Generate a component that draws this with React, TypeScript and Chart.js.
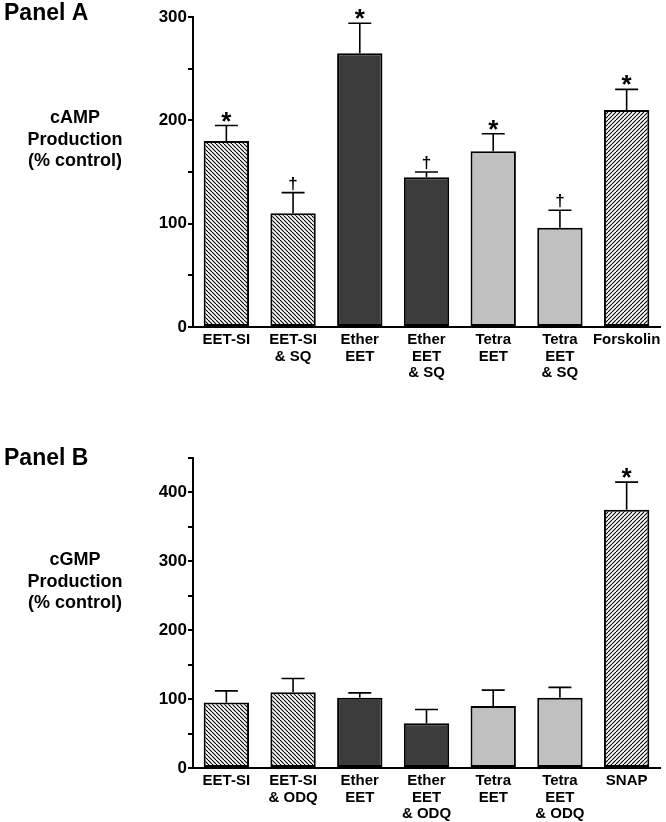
import React, { useEffect, useRef } from 'react';
import { Chart, registerables } from 'chart.js';

Chart.register(...registerables);

const FONT = '"Liberation Sans", Arial, Helvetica, sans-serif';

// ---- Panel A data ----
const categoriesA: string[][] = [
  ['EET-SI'],
  ['EET-SI', '& SQ'],
  ['Ether', 'EET'],
  ['Ether', 'EET', '& SQ'],
  ['Tetra', 'EET'],
  ['Tetra', 'EET', '& SQ'],
  ['Forskolin'],
];
const valuesA = [180, 110, 265, 145, 170, 96, 210];
const errorsA = [15, 20, 29, 5, 17, 17, 20];
const marksA = ['*', '†', '*', '†', '*', '†', '*'];
const ticksA = [0, 100, 200, 300];
const yTitleA = ['cAMP', 'Production', '(% control)'];

// ---- Panel B data ----
const categoriesB: string[][] = [
  ['EET-SI'],
  ['EET-SI', '& ODQ'],
  ['Ether', 'EET'],
  ['Ether', 'EET', '& ODQ'],
  ['Tetra', 'EET'],
  ['Tetra', 'EET', '& ODQ'],
  ['SNAP'],
];
const valuesB = [95, 110, 102, 65, 90, 102, 375];
const errorsB = [17, 20, 7, 20, 23, 15, 40];
const marksB = ['', '', '', '', '', '', '*'];
const ticksB = [0, 100, 200, 300, 400];
const yTitleB = ['cGMP', 'Production', '(% control)'];

function makeHatch(dir: 'down' | 'up'): CanvasPattern | string {
  const s = 4;
  const c = document.createElement('canvas');
  c.width = s;
  c.height = s;
  const g = c.getContext('2d');
  if (!g) return '#888';
  g.fillStyle = '#ffffff';
  g.fillRect(0, 0, s, s);
  g.strokeStyle = '#000000';
  g.lineWidth = 1.1;
  for (const k of [-s, 0, s]) {
    g.beginPath();
    if (dir === 'down') {
      g.moveTo(k, 0);
      g.lineTo(k + s, s);
    } else {
      g.moveTo(k, s);
      g.lineTo(k + s, 0);
    }
    g.stroke();
  }
  const p = g.createPattern(c, 'repeat');
  return p || '#888';
}

interface PanelSpec {
  title: string;
  titleY: number;
  yTitle: string[];
  yTitleY: number;
  labels: string[][];
  values: number[];
  errors: number[];
  marks: string[];
  majorTicks: number[];
  max: number;
  top: number;
  xAxisHeight: number;
}

function buildChart(canvas: HTMLCanvasElement, spec: PanelSpec): Chart {
  const down = makeHatch('down');
  const up = makeHatch('up');
  const dark = '#3c3c3c';
  const light = '#c0c0c0';
  const fills = [down, down, dark, dark, light, light, up];

  const annot = {
    id: 'annot',
    afterDatasetsDraw(chart: any) {
      const ctx: CanvasRenderingContext2D = chart.ctx;
      const ys = chart.scales.y;
      const meta = chart.getDatasetMeta(0);
      ctx.save();
      meta.data.forEach((bar: any, i: number) => {
        const x = bar.x;
        const top = ys.getPixelForValue(spec.values[i]);
        const capY = ys.getPixelForValue(spec.values[i] + spec.errors[i]);
        ctx.strokeStyle = '#000';
        ctx.lineWidth = 1.6;
        ctx.beginPath();
        ctx.moveTo(x, top);
        ctx.lineTo(x, capY);
        ctx.moveTo(x - 11.5, capY);
        ctx.lineTo(x + 11.5, capY);
        ctx.stroke();
        const m = spec.marks[i];
        if (m) {
          const isStar = m === '*';
          ctx.font = isStar ? `bold 26px ${FONT}` : `bold 17px ${FONT}`;
          ctx.fillStyle = '#000';
          ctx.textAlign = 'center';
          ctx.textBaseline = 'alphabetic';
          const mt = ctx.measureText(m);
          const desc = mt.actualBoundingBoxDescent;
          const gap = isStar ? 4 : 2;
          ctx.fillText(m, x, capY - gap - desc);
        }
      });
      ctx.restore();
    },
    afterDraw(chart: any) {
      const ctx: CanvasRenderingContext2D = chart.ctx;
      ctx.save();
      ctx.fillStyle = '#000';
      ctx.textBaseline = 'middle';
      ctx.textAlign = 'left';
      ctx.font = `bold 23px ${FONT}`;
      ctx.fillText(spec.title, 4, spec.titleY);
      ctx.textAlign = 'center';
      ctx.font = `bold 18px ${FONT}`;
      spec.yTitle.forEach((line, k) => {
        ctx.fillText(line, 75, spec.yTitleY + k * 21.6);
      });
      ctx.restore();
    },
  };

  return new Chart(canvas, {
    type: 'bar',
    data: {
      labels: spec.labels,
      datasets: [
        {
          data: spec.values,
          backgroundColor: fills as any,
          borderColor: '#000',
          borderWidth: 2,
          borderSkipped: false,
          categoryPercentage: 1,
          barPercentage: 0.68,
        },
      ],
    },
    options: {
      animation: false,
      responsive: false,
      devicePixelRatio: 1,
      layout: { padding: { left: 0, right: 6, top: spec.top, bottom: 0 } },
      plugins: {
        legend: { display: false },
        tooltip: { enabled: false },
        title: { display: false },
      },
      scales: {
        x: {
          grid: { display: false, drawTicks: false },
          border: { display: true, color: '#000', width: 2 },
          ticks: {
            color: '#000',
            font: { family: FONT, weight: 'bold', size: 15, lineHeight: 1.1 },
            padding: 5,
            maxRotation: 0,
            autoSkip: false,
          },
          afterFit(scale: any) {
            scale.height = spec.xAxisHeight;
          },
        },
        y: {
          min: 0,
          max: spec.max,
          grid: {
            display: true,
            drawOnChartArea: false,
            drawTicks: true,
            tickLength: 5,
            color: '#000',
            lineWidth: 2,
          },
          border: { display: true, color: '#000', width: 2 },
          ticks: {
            stepSize: 50,
            color: '#000',
            padding: 1,
            font: { family: FONT, weight: 'bold', size: 17 },
            callback: (v: any) => (spec.majorTicks.includes(Number(v)) ? String(v) : ''),
          },
          afterFit(scale: any) {
            scale.width = 193;
          },
        },
      },
    } as any,
    plugins: [annot as any],
  });
}

export default function App() {
  const refA = useRef<HTMLCanvasElement>(null);
  const refB = useRef<HTMLCanvasElement>(null);

  useEffect(() => {
    if (!refA.current || !refB.current) return;
    const a = buildChart(refA.current, {
      title: 'Panel A',
      titleY: 14,
      yTitle: yTitleA,
      yTitleY: 118,
      labels: categoriesA,
      values: valuesA,
      errors: errorsA,
      marks: marksA,
      majorTicks: ticksA,
      max: 300,
      top: 17,
      xAxisHeight: 73,
    });
    const b = buildChart(refB.current, {
      title: 'Panel B',
      titleY: 59,
      yTitle: yTitleB,
      yTitleY: 160,
      labels: categoriesB,
      values: valuesB,
      errors: errorsB,
      marks: marksB,
      majorTicks: ticksB,
      max: 450,
      top: 58,
      xAxisHeight: 54,
    });
    return () => {
      a.destroy();
      b.destroy();
    };
  }, []);

  return (
    <div style={{ position: 'absolute', left: 0, top: 0, width: 666, height: 822, background: '#fff' }}>
      <canvas ref={refA} width={666} height={400} style={{ display: 'block', position: 'absolute', left: 0, top: 0 }} />
      <canvas ref={refB} width={666} height={422} style={{ display: 'block', position: 'absolute', left: 0, top: 400 }} />
    </div>
  );
}
